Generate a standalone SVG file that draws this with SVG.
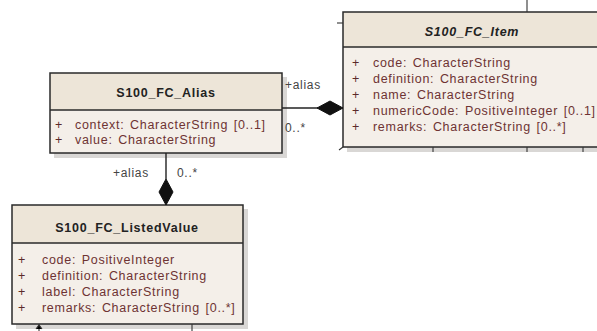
<svg xmlns="http://www.w3.org/2000/svg" width="597" height="331" viewBox="0 0 597 331">
<defs>
<style>
.shadow{fill:#cfcdca;opacity:0.8}
.hdr{fill:#ede5d8;stroke:none}
.body{fill:#f4efe9;stroke:none}
.frame{fill:none;stroke:#2a2a2a;stroke-width:1.5}
.sep{stroke:#2a2a2a;stroke-width:1.3}
.title{font-family:"Liberation Sans",Arial,sans-serif;font-size:12.5px;font-weight:bold;fill:#222;letter-spacing:0.75px}
.attr{font-family:"Liberation Sans",Arial,sans-serif;font-size:12.5px;fill:#6e3333;letter-spacing:0.7px;word-spacing:1.5px}
.plus{font-family:"Liberation Sans",Arial,sans-serif;font-size:12.5px;fill:#5a2a2a}
.lbl{font-family:"Liberation Sans",Arial,sans-serif;font-size:12px;fill:#444;letter-spacing:0.7px}
.conn{stroke:#222;stroke-width:1.4;fill:none}
.dia{fill:#111;stroke:#111;stroke-width:1}
.tick{stroke:#333;stroke-width:1.1}
</style>
</defs>
<rect width="597" height="331" fill="#ffffff"/>

<g id="S100_FC_Item">
<rect class="shadow" x="347" y="16" width="260" height="136"/>
<rect class="hdr" x="343" y="12" width="260" height="35"/>
<rect class="body" x="343" y="47" width="260" height="100"/>
<line class="sep" x1="343" y1="47" x2="603" y2="47"/>
<rect class="frame" x="343" y="12" width="260" height="135"/>
<text class="title" x="472" y="36" text-anchor="middle" font-style="italic">S100_FC_Item</text>
<text class="plus" x="352" y="67">+</text>
<text class="attr" x="373" y="67">code:  CharacterString</text>
<text class="plus" x="352" y="83">+</text>
<text class="attr" x="373" y="83">definition:  CharacterString</text>
<text class="plus" x="352" y="99">+</text>
<text class="attr" x="373" y="99">name:  CharacterString</text>
<text class="plus" x="352" y="115">+</text>
<text class="attr" x="373" y="115">numericCode:  PositiveInteger [0..1]</text>
<text class="plus" x="352" y="131">+</text>
<text class="attr" x="373" y="131">remarks:  CharacterString [0..*]</text>
</g>

<g id="S100_FC_Alias">
<rect class="shadow" x="54" y="77" width="233" height="81"/>
<rect class="hdr" x="50" y="73" width="232" height="37"/>
<rect class="body" x="50" y="110" width="232" height="43"/>
<line class="sep" x1="50" y1="110" x2="282" y2="110"/>
<rect class="frame" x="50" y="73" width="232" height="80"/>
<text class="title" x="166" y="97" text-anchor="middle">S100_FC_Alias</text>
<text class="plus" x="55" y="129">+</text>
<text class="attr" x="75" y="129">context:  CharacterString [0..1]</text>
<text class="plus" x="55" y="144">+</text>
<text class="attr" x="75" y="144">value:  CharacterString</text>
</g>

<g id="S100_FC_ListedValue">
<rect class="shadow" x="16" y="209" width="232" height="120"/>
<rect class="hdr" x="12" y="205" width="231" height="38"/>
<rect class="body" x="12" y="243" width="231" height="81"/>
<line class="sep" x1="12" y1="243" x2="243" y2="243"/>
<rect class="frame" x="12" y="205" width="231" height="119"/>
<text class="title" x="127" y="232" text-anchor="middle">S100_FC_ListedValue</text>
<text class="plus" x="18" y="264">+</text>
<text class="attr" x="42" y="264">code:  PositiveInteger</text>
<text class="plus" x="18" y="280">+</text>
<text class="attr" x="42" y="280">definition:  CharacterString</text>
<text class="plus" x="18" y="296">+</text>
<text class="attr" x="42" y="296">label:  CharacterString</text>
<text class="plus" x="18" y="312">+</text>
<text class="attr" x="42" y="312">remarks:  CharacterString [0..*]</text>
</g>

<g id="connectors">
<line class="conn" x1="282" y1="108" x2="318" y2="108"/>
<polygon class="dia" points="343,108 330,101 317,108 330,115"/>
<text class="lbl" x="285" y="89">+alias</text>
<text class="lbl" x="285" y="132">0..*</text>

<line class="conn" x1="166" y1="153" x2="166" y2="179"/>
<polygon class="dia" points="166,205 173,192 166,179 159,192"/>
<text class="lbl" x="113" y="177">+alias</text>
<text class="lbl" x="177" y="177">0..*</text>

<line class="tick" x1="527" y1="0" x2="527" y2="12"/>
<line class="tick" x1="337" y1="23" x2="343" y2="23"/>
<line class="tick" x1="339" y1="150" x2="343" y2="147"/>
<line class="tick" x1="433" y1="147" x2="433" y2="152"/>
<line class="tick" x1="527" y1="147" x2="527" y2="152"/>
<line class="tick" x1="583" y1="147" x2="583" y2="152"/>
<line class="tick" x1="39" y1="324" x2="39" y2="331"/>
<polyline class="tick" points="36,329 39,325 42,329"/>
<line class="tick" x1="192" y1="324" x2="192" y2="331"/>
</g>
</svg>
